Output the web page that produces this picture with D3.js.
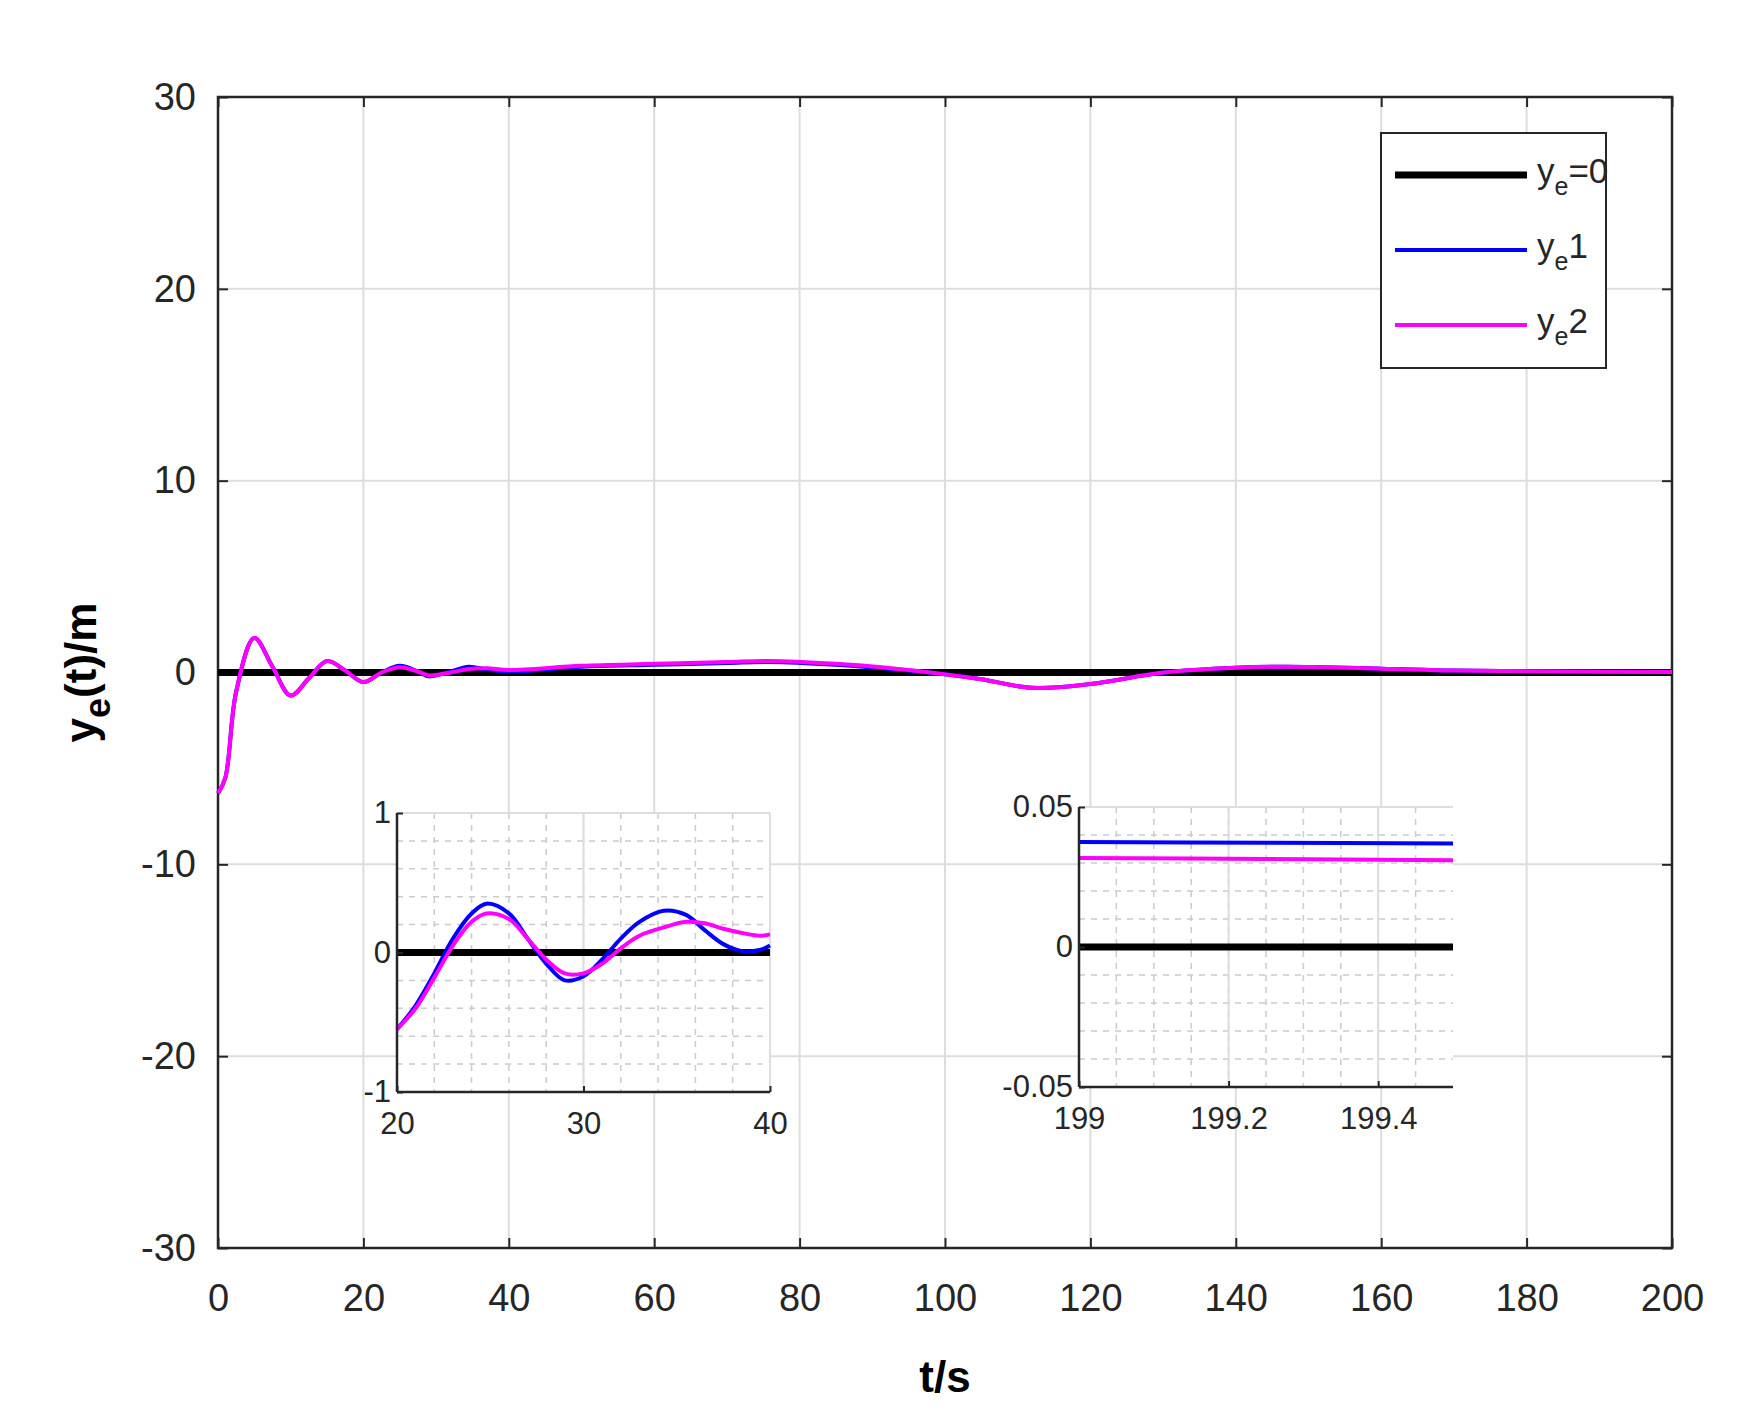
<!DOCTYPE html>
<html><head><meta charset="utf-8">
<script src="https://cdn.jsdelivr.net/npm/d3@7"></script>
<style>body{margin:0;background:#fff}text{font-family:Arial,"Liberation Sans",sans-serif}</style>
</head><body><div id="chart"></div>
<script>
// main series (t, y)
const tMain = [0, 1, 2.5, 5, 7.5, 10, 12.5, 15, 17.5, 20, 22.5, 25, 27.5, 29, 32, 34.5, 37, 40, 50, 60, 70, 76, 85, 92, 98, 105, 112, 120, 130, 140, 147, 160, 170, 185, 200];
const y1Main = [-6.3, -5.5, -1, 1.8, 0.3, -1.2, -0.3, 0.6, 0.1, -0.5, 0, 0.35, 0.05, -0.2, 0.05, 0.3, 0.15, 0.05, 0.3, 0.4, 0.5, 0.55, 0.4, 0.2, 0, -0.35, -0.8, -0.6, 0, 0.25, 0.3, 0.2, 0.1, 0.05, 0.04];
const y2Main = [-6.3, -5.5, -1, 1.8, 0.3, -1.2, -0.3, 0.6, 0.1, -0.5, 0, 0.28, 0.05, -0.15, 0, 0.18, 0.22, 0.13, 0.35, 0.45, 0.55, 0.6, 0.45, 0.25, 0, -0.35, -0.8, -0.6, 0, 0.25, 0.3, 0.2, 0.1, 0.05, 0.03];

// inset 1 (t 20..40)
const tIn1 = [20, 21, 22, 23, 24, 24.8, 26, 27, 28, 29, 30, 31, 32, 33, 34.3, 35.5, 36.5, 37.5, 38.5, 39.5, 40];
const y1In1 = [-0.55, -0.38, -0.15, 0.1, 0.28, 0.35, 0.28, 0.1, -0.08, -0.2, -0.17, -0.05, 0.1, 0.22, 0.3, 0.27, 0.16, 0.06, 0.01, 0.02, 0.05];
const y2In1 = [-0.55, -0.4, -0.18, 0.05, 0.22, 0.28, 0.24, 0.1, -0.05, -0.15, -0.15, -0.08, 0.03, 0.12, 0.18, 0.22, 0.21, 0.17, 0.14, 0.12, 0.13];

// inset 2 (t 199..199.5)
const tIn2 = [199, 199.25, 199.5];
const y1In2 = [0.0375, 0.0372, 0.037];
const y2In2 = [0.0318, 0.0314, 0.031];

const xTicksMain = d3.range(0, 201, 20);
const yTicksMain = [-30, -20, -10, 0, 10, 20, 30];
const legendLabels = [["=0", "black"], ["1", "#0000ff"], ["2", "#ff00ff"]];

const W = 1737, H = 1427;
const svg = d3.select('#chart').append('svg').attr('width', W).attr('height', H);
const m = { left: 218, right: 1672, top: 97, bottom: 1248 };
const minus = f => d => f(d).replace('−', '-');

const x = d3.scaleLinear().domain([0, 200]).range([m.left, m.right]);
const y = d3.scaleLinear().domain([-30, 30]).range([m.bottom, m.top]);

const g = svg.append('g');
// grid
g.selectAll('.gx').data(xTicksMain).join('line')
  .attr('x1', d => x(d)).attr('x2', d => x(d)).attr('y1', m.top).attr('y2', m.bottom)
  .attr('stroke', '#ddd').attr('stroke-width', 2);
g.selectAll('.gy').data(yTicksMain).join('line')
  .attr('y1', d => y(d)).attr('y2', d => y(d)).attr('x1', m.left).attr('x2', m.right)
  .attr('stroke', '#ddd').attr('stroke-width', 2);

const axisStyle = (sel, fs) => {
  sel.select('.domain').remove();
  sel.selectAll('line').attr('stroke', '#262626').attr('stroke-width', 2);
  sel.selectAll('text').attr('font-size', fs).attr('fill', '#262626');
};
svg.append('g').attr('transform', `translate(0,${m.bottom})`)
  .call(d3.axisBottom(x).tickValues(xTicksMain).tickSize(-10).tickPadding(36))
  .call(s => axisStyle(s, 38));
svg.append('g').attr('transform', `translate(${m.left},0)`)
  .call(d3.axisLeft(y).tickValues(yTicksMain).tickFormat(minus(d3.format('d'))).tickSize(-10).tickPadding(22))
  .call(s => axisStyle(s, 38));
svg.append('g').attr('transform', `translate(0,${m.top})`)
  .call(d3.axisBottom(x).tickValues(xTicksMain).tickSize(10).tickFormat(''))
  .call(s => axisStyle(s, 38));
svg.append('g').attr('transform', `translate(${m.right},0)`)
  .call(d3.axisRight(y).tickValues(yTicksMain).tickSize(-10).tickFormat(''))
  .call(s => axisStyle(s, 38));
svg.append('rect').attr('x', m.left).attr('y', m.top).attr('width', m.right - m.left).attr('height', m.bottom - m.top)
  .attr('fill', 'none').attr('stroke', '#262626').attr('stroke-width', 2.5);

const drawLines = (parent, xs, ys, ts, a, b, zeroDomain) => {
  parent.append('line').attr('x1', xs(zeroDomain[0])).attr('x2', xs(zeroDomain[1]))
    .attr('y1', ys(0)).attr('y2', ys(0)).attr('stroke', 'black').attr('stroke-width', 7);
  const line = (vals) => d3.line().curve(d3.curveCatmullRom).x((d, i) => xs(ts[i])).y(d => ys(d))(vals);
  parent.append('path').attr('d', line(a)).attr('fill', 'none').attr('stroke', '#0000ff').attr('stroke-width', 4);
  parent.append('path').attr('d', line(b)).attr('fill', 'none').attr('stroke', '#ff00ff').attr('stroke-width', 4);
};
drawLines(svg.append('g'), x, y, tMain, y1Main, y2Main, [0, 200]);

// axis labels
svg.append('text').attr('x', (m.left + m.right) / 2).attr('y', 1392).attr('text-anchor', 'middle')
  .attr('font-size', 44).attr('font-weight', 'bold').text('t/s');
const yl = svg.append('text').attr('transform', `translate(96,${(m.top + m.bottom) / 2}) rotate(-90)`)
  .attr('text-anchor', 'middle').attr('font-size', 44).attr('font-weight', 'bold');
yl.append('tspan').text('y');
yl.append('tspan').attr('font-size', 36).attr('dy', 14).text('e');
yl.append('tspan').attr('dy', -14).text('(t)/m');

// legend
const lg = svg.append('g').attr('transform', 'translate(1381,133)');
lg.append('rect').attr('width', 225).attr('height', 235).attr('fill', 'white').attr('stroke', '#262626').attr('stroke-width', 2);
legendLabels.forEach(([lab, c], i) => {
  const yy = 42 + i * 75;
  lg.append('line').attr('x1', 14).attr('x2', 146).attr('y1', yy).attr('y2', yy)
    .attr('stroke', c).attr('stroke-width', i === 0 ? 7 : 4);
  const t = lg.append('text').attr('x', 156).attr('y', yy + 8).attr('font-size', 35).attr('fill', '#262626');
  t.append('tspan').text('y');
  t.append('tspan').attr('font-size', 25).attr('dy', 12).text('e');
  t.append('tspan').attr('dy', -12).text(lab);
});

// insets
const inset = (box, xd, yd, xMinor, yMinor, xTicks, yTicks, xFmt, yFmt, ts, a, b) => {
  const xs = d3.scaleLinear().domain(xd).range([box.x0, box.x1]);
  const ys = d3.scaleLinear().domain(yd).range([box.y1, box.y0]);
  const ig = svg.append('g');
  ig.append('rect').attr('x', box.x0).attr('y', box.y0).attr('width', box.x1 - box.x0).attr('height', box.y1 - box.y0).attr('fill', 'white');
  ig.selectAll('.mx').data(xMinor).join('line').attr('x1', d => xs(d)).attr('x2', d => xs(d))
    .attr('y1', box.y0).attr('y2', box.y1).attr('stroke', '#ccc').attr('stroke-width', 1.5).attr('stroke-dasharray', '6,6');
  ig.selectAll('.my').data(yMinor).join('line').attr('y1', d => ys(d)).attr('y2', d => ys(d))
    .attr('x1', box.x0).attr('x2', box.x1).attr('stroke', '#ccc').attr('stroke-width', 1.5).attr('stroke-dasharray', '6,6');
  ig.selectAll('.jx').data(xTicks).join('line').attr('x1', d => xs(d)).attr('x2', d => xs(d))
    .attr('y1', box.y0).attr('y2', box.y1).attr('stroke', '#ddd').attr('stroke-width', 2);
  ig.selectAll('.jy').data(yTicks).join('line').attr('y1', d => ys(d)).attr('y2', d => ys(d))
    .attr('x1', box.x0).attr('x2', box.x1).attr('stroke', '#ddd').attr('stroke-width', 2);
  drawLines(ig, xs, ys, ts, a, b, xd);
  ig.append('g').attr('transform', `translate(0,${box.y1})`)
    .call(d3.axisBottom(xs).tickValues(xTicks).tickFormat(xFmt).tickSize(-6).tickPadding(20))
    .call(s => axisStyle(s, 31));
  ig.append('g').attr('transform', `translate(${box.x0},0)`)
    .call(d3.axisLeft(ys).tickValues(yTicks).tickFormat(yFmt).tickSize(-6).tickPadding(6))
    .call(s => axisStyle(s, 31));
  ig.append('line').attr('x1', box.x0).attr('x2', box.x1).attr('y1', box.y1).attr('y2', box.y1).attr('stroke', '#262626').attr('stroke-width', 2.5);
  ig.append('line').attr('x1', box.x0).attr('x2', box.x0).attr('y1', box.y0).attr('y2', box.y1).attr('stroke', '#262626').attr('stroke-width', 2.5);
};
inset({ x0: 397, x1: 770, y0: 813, y1: 1092 }, [20, 40], [-1, 1],
  d3.range(22, 40, 2), d3.range(-0.8, 1, 0.2), [20, 30, 40], [-1, 0, 1], d3.format('d'), minus(d3.format('d')),
  tIn1, y1In1, y2In1);
inset({ x0: 1079, x1: 1453, y0: 807, y1: 1087 }, [199, 199.5], [-0.05, 0.05],
  d3.range(199.05, 199.5, 0.05), d3.range(-0.04, 0.05, 0.01), [199, 199.2, 199.4], [-0.05, 0, 0.05],
  d => d3.format('.1f')(d).replace(/\.0$/, ''), d => d === 0 ? '0' : minus(d3.format('.2f'))(d),
  tIn2, y1In2, y2In2);
</script></body></html>
